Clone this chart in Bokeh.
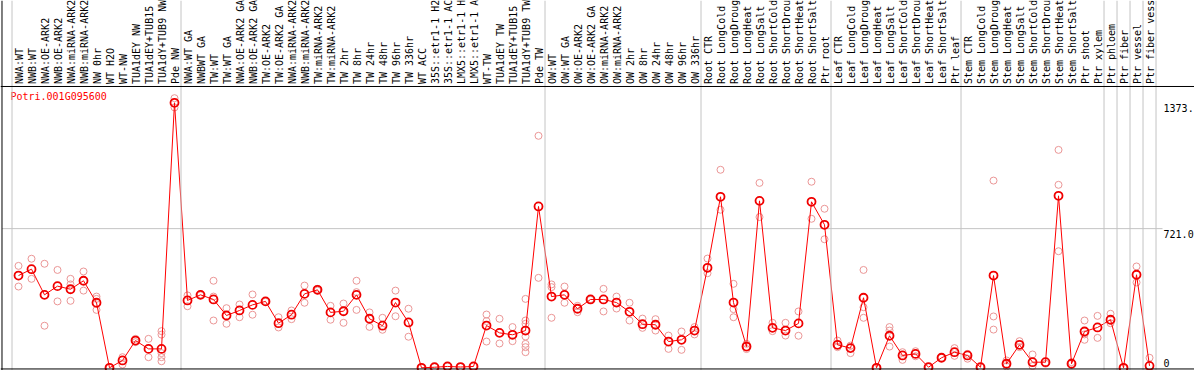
from bokeh.plotting import figure
from bokeh.models import Range1d, Span, ColumnDataSource
from bokeh.core.properties import value
from bokeh.embed import file_html
from bokeh.resources import INLINE

gene = "Potri.001G095600"

labels = [
    "NWA:WT", "NWB:WT", "NWA:OE-ARK2", "NWB:OE-ARK2", "NWA:miRNA-ARK2", "NWB:miRNA-ARK2",
    "NW 0hr", "WT H2O", "WT-NW", "TUA1dEY NW", "TUA1dEY+TUB15 NW", "TUA1dY+TUB9 NW", "Pde NW",
    "NWA:WT GA", "NWBWT GA", "TW:WT", "TW:WT GA", "NWA:OE-ARK2 GA", "NWB:OE-ARK2 GA",
    "TW:OE-ARK2", "TW:OE-ARK2 GA", "NWA:miRNA-ARK2", "NWB:miRNA-ARK2", "TW:miRNA-ARK2",
    "TW:miRNA-ARK2", "TW 2hr", "TW 8hr", "TW 24hr", "TW 48hr", "TW 96hr", "TW 336hr",
    "WT ACC", "35S::etr1-1 H2O", "35S::etr1-1 ACC", "LMX5::etr1-1 H2O", "LMX5::etr1-1 ACC",
    "WT-TW", "TUA1dEY TW", "TUA1dEY+TUB15 TW", "TUA1dY+TUB9 TW", "Pde TW",
    "OW:WT", "OW:WT GA", "OW:OE-ARK2", "OW:OE-ARK2 GA", "OW:miRNA-ARK2", "OW:miRNA-ARK2",
    "OW 2hr", "OW 8hr", "OW 24hr", "OW 48hr", "OW 96hr", "OW 336hr",
    "Root CTR", "Root LongCold", "Root LongDrought", "Root LongHeat", "Root LongSalt",
    "Root ShortCold", "Root ShortDrought", "Root ShortHeat", "Root ShortSalt", "Ptr root",
    "Leaf CTR", "Leaf LongCold", "Leaf LongDrought", "Leaf LongHeat", "Leaf LongSalt",
    "Leaf ShortCold", "Leaf ShortDrought", "Leaf ShortHeat", "Leaf ShortSalt", "Ptr leaf",
    "Stem CTR", "Stem LongCold", "Stem LongDrought", "Stem LongHeat", "Stem LongSalt",
    "Stem ShortCold", "Stem ShortDrought", "Stem ShortHeat", "Stem ShortSalt", "Ptr shoot",
    "Ptr xylem", "Ptr phloem", "Ptr fiber", "Ptr vessel", "Ptr fiber vessel",
]

means = [
    478, 511, 378, 423, 407, 451, 337, 0, 38, 141, 98, 98, 1373,
    349, 378, 354, 271, 297, 326, 344, 231, 275, 383, 404, 287, 293, 378, 254, 218, 338, 235,
    0, 3, 7, 4, 7, 219, 181, 171, 193, 836,
    369, 378, 306, 354, 354, 338, 290, 226, 223, 136, 145, 193,
    518, 886, 338, 110, 865, 207, 193, 230, 860, 741,
    119, 102, 363, 0, 166, 64, 72, 3, 52, 81,
    64, 3, 478, 21, 119, 29, 29, 891, 21, 188, 209,
    249, 0, 482, 10,
]

replicates = [
    [528, 421], [565, 461], [539, 218], [507, 344], [461, 432, 347], [499, 400],
    [369, 357, 300], [0], [55, 17], [150, 133], [150, 55], [190, 172, 76, 55, 34], [1397, 1349],
    [375, 319], [381, 375], [451, 369, 245], [309, 228], [328, 262], [380, 275], [346, 342],
    [262, 209], [297, 252], [426, 337], [409, 400], [321, 249], [333, 233], [451, 392, 300],
    [287, 212], [259, 197], [400, 267], [306, 161],
    [0], [3], [7], [4], [7], [276, 242, 136], [254, 126], [211, 138],
    [357, 245, 228, 162, 124, 107, 81], [1202, 466],
    [432, 418, 259], [421, 337], [321, 288], [356, 352], [409, 292], [369, 307], [337, 245],
    [255, 207], [252, 193], [167, 98], [188, 93], [211, 173],
    [566, 490], [1026, 819], [435, 304, 262], [124, 97], [958, 781], [233, 190], [233, 167],
    [292, 166], [964, 772], [824, 666],
    [141, 107], [115, 76], [507, 314, 259], [0], [211, 193, 110], [81, 41], [86, 60], [3],
    [52], [102, 62],
    [72, 47], [3], [970, 266, 198], [38, 7], [138, 107], [69, 9], [21], [1129, 948, 604],
    [29], [245, 173, 145], [269, 155],
    [280, 231], [0], [525, 442], [52],
]

group_breaks = [-0.5, 12.5, 40.5, 52.5, 62.5, 72.5, 83.5, 84.5, 85.5, 86.5, 87.5]
tick_top_values = [1373, 721]
tick_top_labels = ["1373.", "721.0"]
tick_bottom_values = [0]
tick_bottom_labels = ["0"]
grid_value = 721

# layout (in data units)
X0, X1 = -1.385, 90.46
Y0, Y1 = -14, 1903
LABEL_BASE = 1470
FRAME_TOP = 1457.5
FRAME_BOTTOM = -6
FRAME_LEFT = -1.27

p = figure(width=1194, height=370, x_range=Range1d(X0, X1), y_range=Range1d(Y0, Y1),
           output_backend="svg", toolbar_location=None, min_border=0,
           x_axis_location=None, y_axis_location=None, outline_line_color=None,
           background_fill_color="white", border_fill_color="white")
p.grid.visible = False

# grey group separators
for b in group_breaks:
    p.add_layout(Span(location=b, dimension="height", line_color="#c4c4c4", line_width=1))

# horizontal grid line
p.segment(x0=[FRAME_LEFT], y0=[grid_value], x1=[88.0], y1=[grid_value],
          line_color="#c4c4c4", line_width=1)

# frame lines
p.add_layout(Span(location=FRAME_TOP, dimension="width", line_color="black", line_width=1))
p.add_layout(Span(location=FRAME_BOTTOM, dimension="width", line_color="black", line_width=1))
p.add_layout(Span(location=FRAME_LEFT, dimension="height", line_color="black", line_width=1))

xs = list(range(len(labels)))

# condition labels (rotated, clipped at the top)
p.text(x=xs, y=[LABEL_BASE] * len(labels), text=labels, angle=1.5708,
       text_align="left", text_baseline="middle", x_offset=1,
       text_font=value("DejaVu Sans Mono"), text_font_size="10px", text_color="black")

# replicate points
rx, ry = [], []
for i, reps in enumerate(replicates):
    for r in reps:
        rx.append(i)
        ry.append(r)
p.scatter(rx, ry, marker="circle", size=7, fill_color=None,
          line_color="#eb9696", line_width=1)

# mean line and points
src = ColumnDataSource(dict(x=xs, y=means))
p.line("x", "y", source=src, line_color="#ff0000", line_width=1)
p.scatter("x", "y", source=src, marker="circle", size=8, fill_color=None,
          line_color="#f00000", line_width=1.8)

# gene name
p.text(x=[-0.62], y=[1406], text=[gene], text_align="left", text_baseline="middle",
       text_font=value("DejaVu Sans Mono"), text_font_size="10px", text_color="#ff0000")

# right side value labels
p.text(x=[88.08] * len(tick_top_values), y=tick_top_values, text=tick_top_labels,
       text_align="left", text_baseline="top", y_offset=1,
       text_font=value("DejaVu Sans Mono"), text_font_size="10px", text_color="black")
p.text(x=[88.08] * len(tick_bottom_values), y=tick_bottom_values, text=tick_bottom_labels,
       text_align="left", text_baseline="bottom", y_offset=-1,
       text_font=value("DejaVu Sans Mono"), text_font_size="10px", text_color="black")

open("out.html", "w").write(file_html(p, INLINE))
